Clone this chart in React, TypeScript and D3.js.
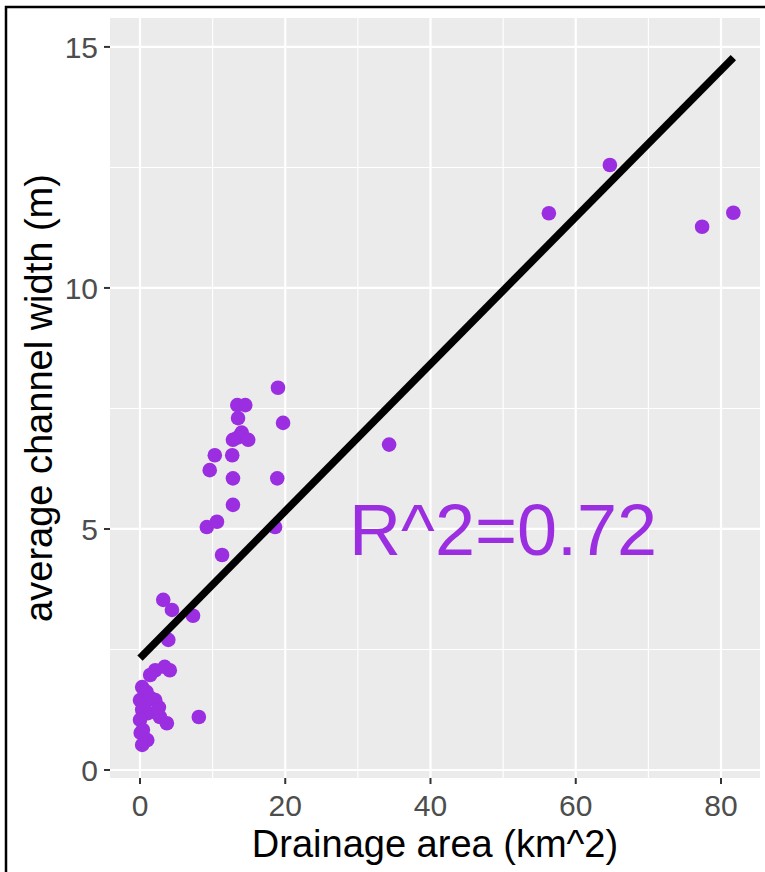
import React, { useEffect } from "react";
import * as d3 from "d3";

const areaX = [56.3, 64.7, 77.4, 81.7, 34.3,
  19.0, 19.7, 13.4, 14.5, 13.5, 14.0, 13.5, 14.9, 12.8, 10.3, 12.7, 9.6, 12.8, 18.9, 12.8, 9.2, 10.6, 11.3, 18.6,
  3.2, 4.4, 7.3, 3.9, 2.1, 3.4, 4.1, 1.4, 0.3, 0.9, 0.0, 1.4, 2.1, 0.3, 1.1, 0.0, 2.75, 3.7, 0.4, 0.1, 1.0, 0.3, 8.1, 2.6, 0.6];
const widthY = [11.55, 12.55, 11.27, 11.56, 6.75,
  7.93, 7.2, 7.57, 7.57, 7.3, 7.0, 6.9, 6.85, 6.85, 6.53, 6.53, 6.22, 6.05, 6.05, 5.5, 5.04, 5.15, 4.46, 5.04,
  3.53, 3.32, 3.2, 2.7, 2.07, 2.14, 2.07, 1.97, 1.72, 1.62, 1.45, 1.5, 1.45, 1.25, 1.18, 1.04, 1.1, 0.97, 0.83, 0.77, 0.62, 0.52, 1.1, 1.3, 1.35];

const fitX = [0.0, 81.7];
const fitY = [2.32, 14.78];

const xTicks = [0, 20, 40, 60, 80];
const xMinor = [10, 30, 50, 70];
const yTicks = [0, 5, 10, 15];
const yMinor = [2.5, 7.5, 12.5];

const annotation = "R^2=0.72";
const annotX = 50;
const annotY = 5;

const xTitle = "Drainage area (km^2)";
const yTitle = "average channel width (m)";

export default function App() {
  useEffect(() => {
    document.body.style.margin = "0";
  }, []);

  const W = 765, H = 872;
  const panel = { left: 110, right: 760, top: 18, bottom: 778 };

  const x = d3.scaleLinear().domain([-4.13, 85.37]).range([panel.left, panel.right]);
  const y = d3.scaleLinear().domain([-0.166, 15.6]).range([panel.bottom, panel.top]);

  const line = d3.line<number>().x((d, i) => x(fitX[i])).y((d, i) => y(fitY[i]));

  const purple = "#9A2EE0";
  const font = "Liberation Sans, Arial, sans-serif";

  return (
    <svg width={W} height={H} style={{ display: "block", background: "#fff" }} fontFamily={font}>
      <rect x={panel.left} y={panel.top} width={panel.right - panel.left} height={panel.bottom - panel.top} fill="#EBEBEB" />
      {xMinor.map((t) => (
        <line key={"xm" + t} x1={x(t)} x2={x(t)} y1={panel.top} y2={panel.bottom} stroke="#fff" strokeWidth={1.1} />
      ))}
      {yMinor.map((t) => (
        <line key={"ym" + t} y1={y(t)} y2={y(t)} x1={panel.left} x2={panel.right} stroke="#fff" strokeWidth={1.1} />
      ))}
      {xTicks.map((t) => (
        <line key={"xg" + t} x1={x(t)} x2={x(t)} y1={panel.top} y2={panel.bottom} stroke="#fff" strokeWidth={2.2} />
      ))}
      {yTicks.map((t) => (
        <line key={"yg" + t} y1={y(t)} y2={y(t)} x1={panel.left} x2={panel.right} stroke="#fff" strokeWidth={2.2} />
      ))}

      {areaX.map((v, i) => (
        <circle key={"p" + i} cx={x(v)} cy={y(widthY[i])} r={7.3} fill={purple} />
      ))}

      <path d={line(fitX) || ""} fill="none" stroke="#000" strokeWidth={7.5} />

      <text x={x(annotX)} y={y(annotY) + 26} fontSize={72} fill={purple} textAnchor="middle">{annotation}</text>

      {xTicks.map((t) => (
        <g key={"xt" + t}>
          <line x1={x(t)} x2={x(t)} y1={panel.bottom} y2={panel.bottom + 6} stroke="#333" strokeWidth={2} />
          <text x={x(t)} y={816} fontSize={30} fill="#4D4D4D" textAnchor="middle">{t}</text>
        </g>
      ))}
      {yTicks.map((t) => (
        <g key={"yt" + t}>
          <line x1={panel.left - 6} x2={panel.left} y1={y(t)} y2={y(t)} stroke="#333" strokeWidth={2} />
          <text x={98} y={y(t) + 10.7} fontSize={30} fill="#4D4D4D" textAnchor="end">{t}</text>
        </g>
      ))}

      <text x={(panel.left + panel.right) / 2} y={857} fontSize={38} fill="#000" textAnchor="middle">{xTitle}</text>
      <text transform={`translate(52, ${(panel.top + panel.bottom) / 2}) rotate(-90)`} fontSize={38} fill="#000" textAnchor="middle">{yTitle}</text>

      <rect x={6} y={7} width={W + 10} height={H + 10} fill="none" stroke="#000" strokeWidth={2.5} />
    </svg>
  );
}
